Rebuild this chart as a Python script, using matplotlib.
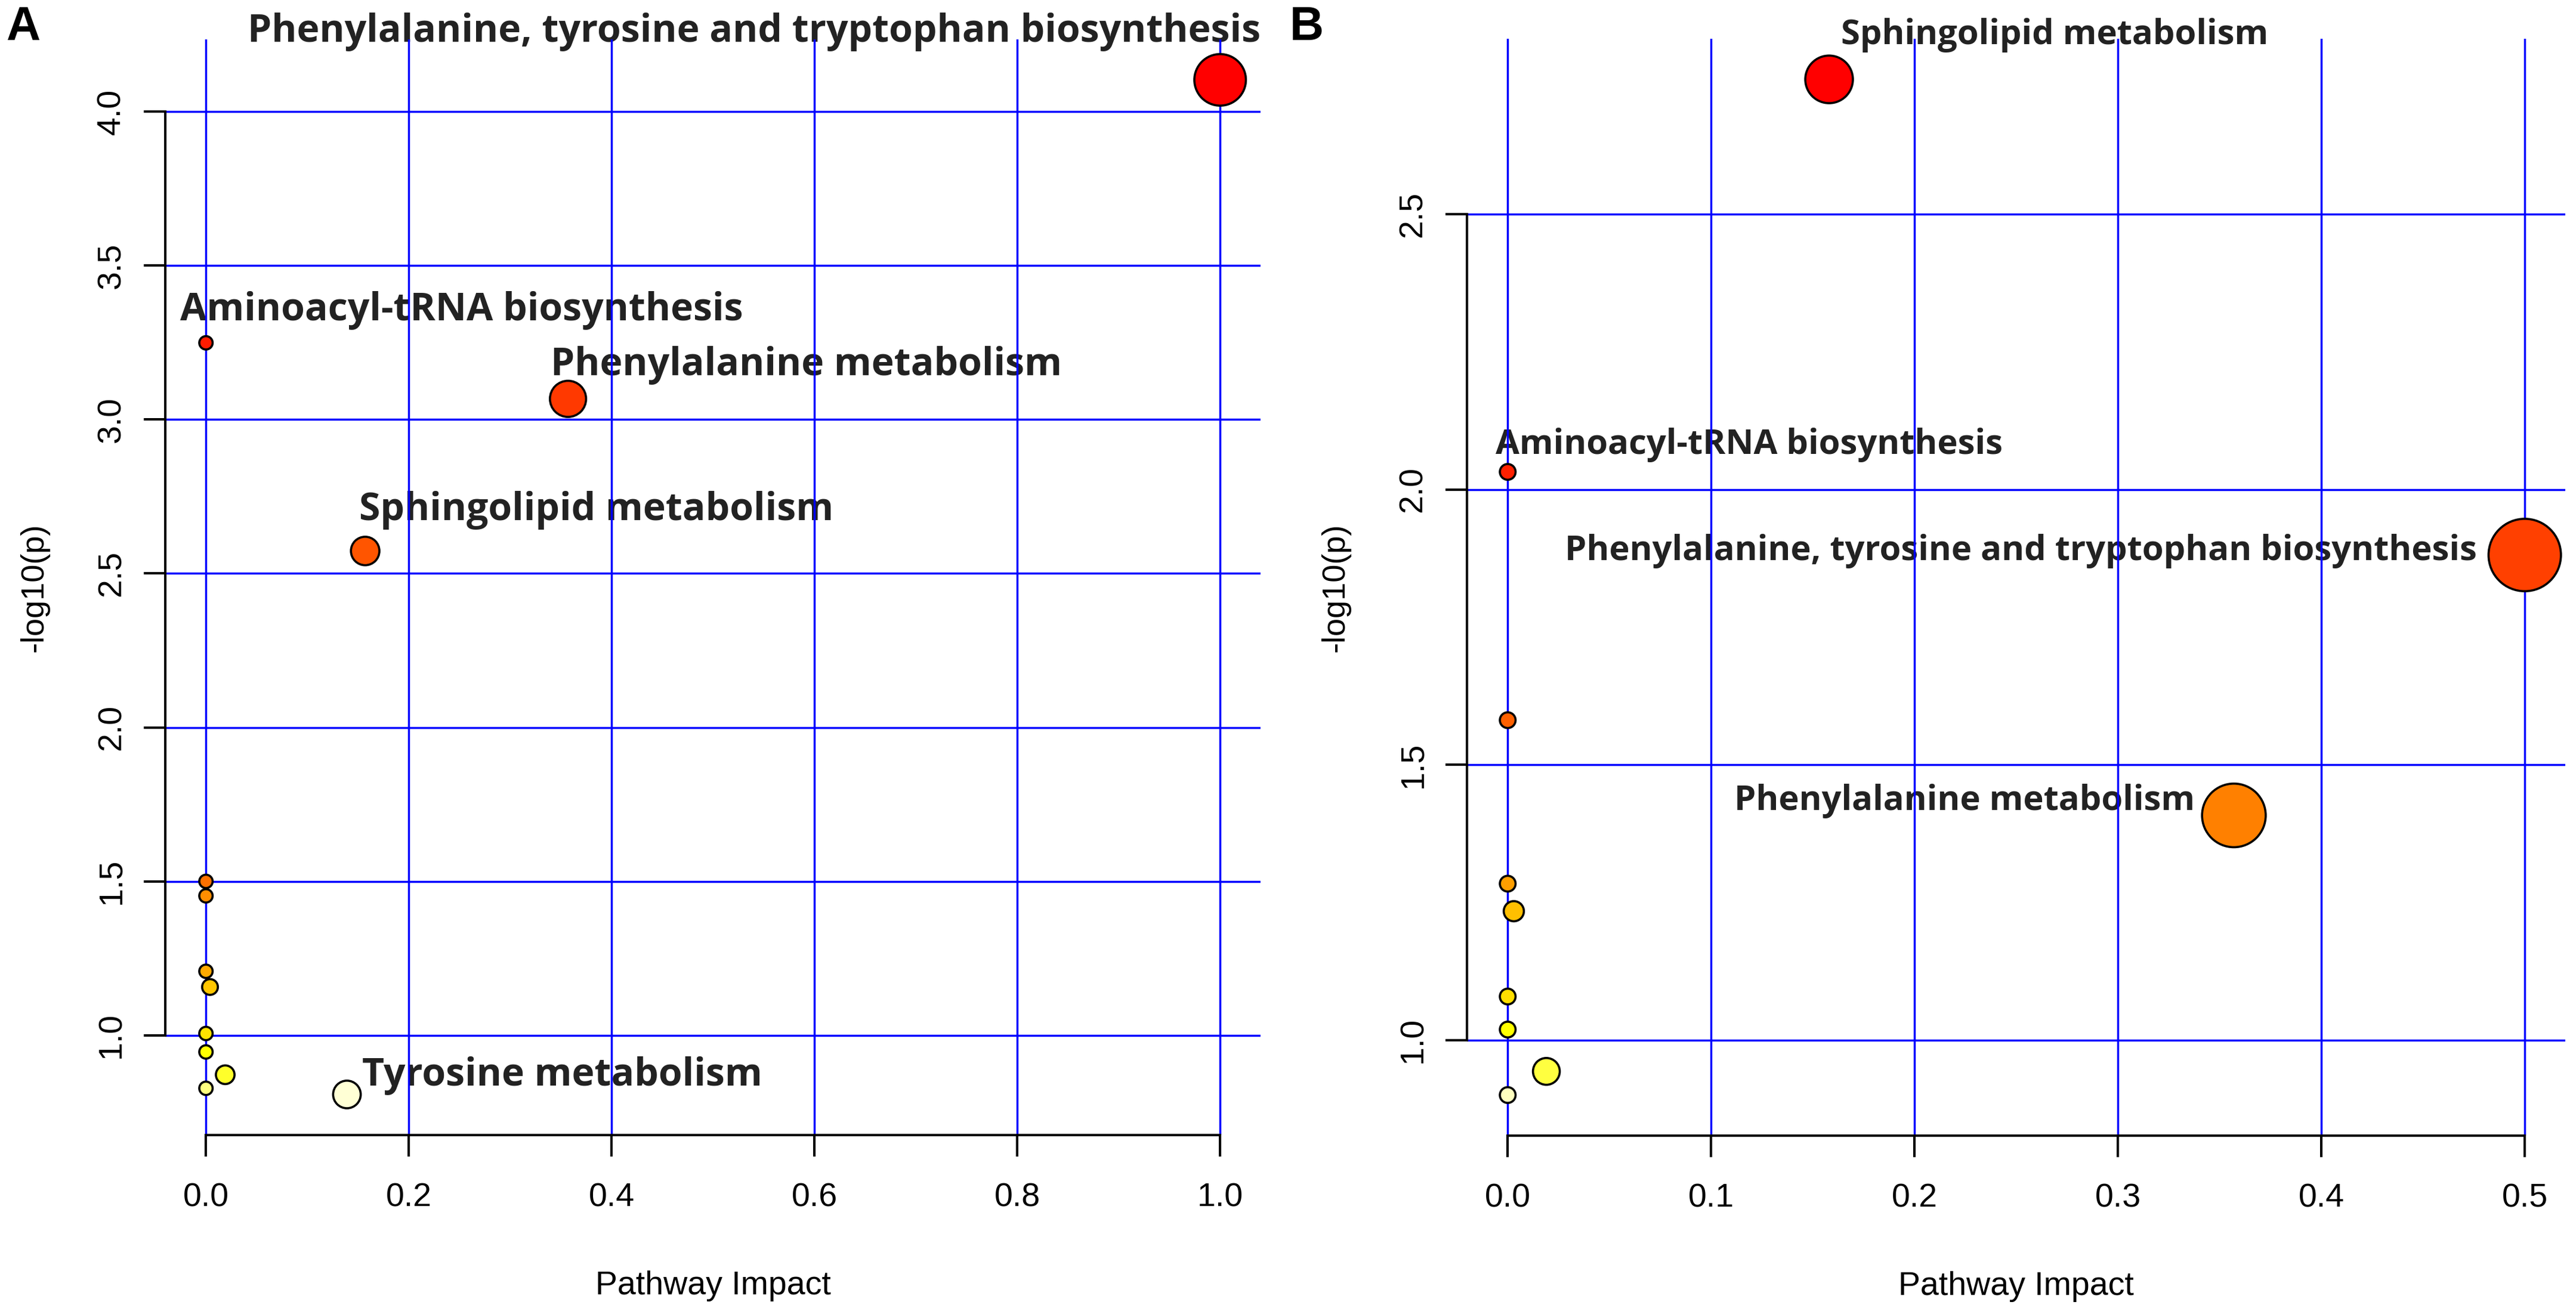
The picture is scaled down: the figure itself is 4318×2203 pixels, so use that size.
import colorsys
import numpy as np
import matplotlib
matplotlib.use("Agg")
import matplotlib.pyplot as plt

plt.rcParams['font.family'] = ['Liberation Sans', 'DejaVu Sans']

# panel A data: pathway impact and -log10(p)
a_impact = [1.0, 0.0, 0.357, 0.157, 0.0, 0.0, 0.0, 0.004, 0.0, 0.0, 0.019, 0.0, 0.139]
a_logp = [4.103, 3.249, 3.067, 2.573, 1.500, 1.453, 1.208, 1.157, 1.006, 0.946, 0.872, 0.828, 0.808]
a_xticks = [0.0, 0.2, 0.4, 0.6, 0.8, 1.0]
a_yticks = [1.0, 1.5, 2.0, 2.5, 3.0, 3.5, 4.0]

# panel B data
b_impact = [0.158, 0.0, 0.5, 0.0, 0.357, 0.0, 0.003, 0.0, 0.0, 0.019, 0.0]
b_logp = [2.745, 2.032, 1.881, 1.581, 1.408, 1.284, 1.234, 1.079, 1.019, 0.943, 0.900]
b_xticks = [0.0, 0.1, 0.2, 0.3, 0.4, 0.5]
b_yticks = [1.0, 1.5, 2.0, 2.5]

PTT = "Phenylalanine, tyrosine and tryptophan biosynthesis"
AMI = "Aminoacyl-tRNA biosynthesis"
PHE = "Phenylalanine metabolism"
SPH = "Sphingolipid metabolism"
TYR = "Tyrosine metabolism"

# label placement (text, x, baseline y, alignment)
a_labels = [(PTT, 0.041, 4.227, 'left'),
            (AMI, -0.0253, 3.322, 'left'),
            (PHE, 0.340, 3.144, 'left'),
            (SPH, 0.151, 2.673, 'left'),
            (TYR, 0.154, 0.837, 'left')]
b_labels = [(SPH, 0.164, 2.809, 'left'),
            (AMI, -0.006, 2.065, 'left'),
            (PTT, 0.4765, 1.872, 'right'),
            (PHE, 0.3378, 1.4176, 'right')]


def heat_colors(n):
    # same as R's heat.colors(n)
    j = n // 4
    i = n - j
    cols = [colorsys.hsv_to_rgb(h, 1, 1) for h in np.linspace(0, 1/6, i)]
    if j > 0:
        sats = np.linspace(1 - 1/(2*j), 1/(2*j), j)
        cols += [colorsys.hsv_to_rgb(1/6, s, 1) for s in sats]
    return cols


def draw_panel(ax, impact, logp, xticks, yticks, labels, dmin, dmax, label_fs):
    impact = np.array(impact)
    logp = np.array(logp)

    # R style limits: data range + 4%
    xr = impact.max() - impact.min()
    yr = logp.max() - logp.min()
    ax.set_xlim(impact.min() - 0.04*xr, impact.max() + 0.04*xr)
    ax.set_ylim(logp.min() - 0.04*yr, logp.max() + 0.04*yr)

    for x in xticks:
        ax.axvline(x, color='#0000ff', lw=2.5, zorder=2)
    for y in yticks:
        ax.axhline(y, color='#0000ff', lw=2.5, zorder=2)

    # colour by rank of p, size by impact
    heat = heat_colors(len(logp))
    cols = [None]*len(logp)
    for k, idx in enumerate(np.argsort(-logp)):
        cols[idx] = heat[k]
    lw = 2.6
    diam = dmin + (dmax - dmin)*np.sqrt(impact/impact.max())
    sizes = ((diam - lw/0.72)*0.72)**2
    ax.scatter(impact, logp, s=sizes, c=cols, edgecolors='black', linewidths=lw,
               zorder=3, clip_on=False)

    for txt, x, y, ha in labels:
        ax.text(x, y, txt, ha=ha, va='baseline', fontsize=label_fs, fontweight='bold',
                color='#222222', family=['Open Sans', 'DejaVu Sans'], zorder=1)

    for s in ['top', 'right']:
        ax.spines[s].set_visible(False)
    ax.spines['left'].set_bounds(yticks[0], yticks[-1])
    ax.spines['bottom'].set_bounds(xticks[0], xticks[-1])
    ax.spines['left'].set_linewidth(2.9)
    ax.spines['bottom'].set_linewidth(2.9)

    ax.set_xticks(xticks, labels=['%.1f' % v for v in xticks])
    ax.set_yticks(yticks, labels=['%.1f' % v for v in yticks], rotation=90, va='center')
    ax.tick_params(length=26, width=2.9, labelsize=40)
    ax.tick_params(axis='x', pad=31)
    ax.tick_params(axis='y', pad=20)

    ax.set_xlabel('Pathway Impact', fontsize=40)
    ax.xaxis.set_label_coords(0.5, -0.1453)
    ax.xaxis.label.set_va('baseline')
    ax.set_ylabel('-log10(p)', fontsize=39)
    ax.yaxis.set_label_coords(-0.106, 0.5)


fig = plt.figure(figsize=(43.18, 22.03), dpi=100)
axA = fig.add_axes([0.0642, 0.1362, 0.4252, 0.8339])
axB = fig.add_axes([0.5695, 0.1357, 0.4264, 0.8348])

draw_panel(axA, a_impact, a_logp, a_xticks, a_yticks, a_labels, 26, 90, 46.3)
draw_panel(axB, b_impact, b_logp, b_xticks, b_yticks, b_labels, 30, 125, 41.7)

fig.text(10/4318, 1 - 67/2203, 'A', fontsize=57, fontweight='bold', va='baseline')
fig.text(2162/4318, 1 - 67/2203, 'B', fontsize=57, fontweight='bold', va='baseline')

fig.savefig('out.png', dpi=100)
